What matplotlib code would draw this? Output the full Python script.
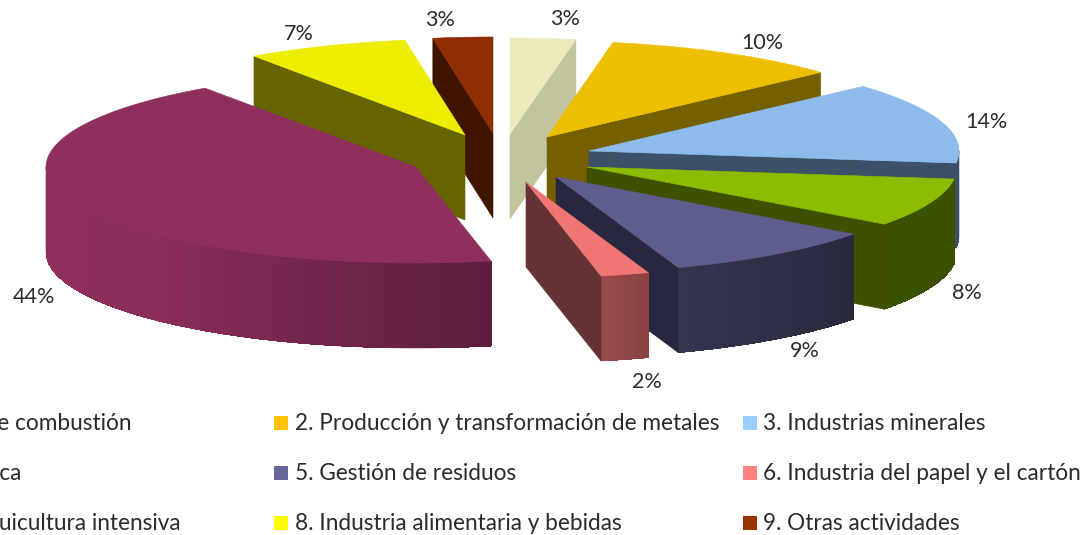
import numpy as np
import matplotlib
matplotlib.use('Agg')
import matplotlib.pyplot as plt
from matplotlib.collections import PolyCollection
from matplotlib.patches import Polygon, Rectangle

plt.rcParams['font.family'] = ['Lato', 'DejaVu Sans']

# shares (the printed labels are rounded)
names = ['1. Instalaciones de combustión',
         '2. Producción y transformación de metales',
         '3. Industrias minerales',
         '4. Industria química',
         '5. Gestión de residuos',
         '6. Industria del papel y el cartón',
         '7. Ganadería y acuicultura intensiva',
         '8. Industria alimentaria y bebidas',
         '9. Otras actividades']
shares = [2.85, 10.4, 13.75, 8.15, 9.49, 2.11, 43.59, 7.06, 2.6]
pct_labels = ['3%', '10%', '14%', '8%', '9%', '2%', '44%', '7%', '3%']

# ── style and layout (pixels of the 1088x535 canvas) ─────────────────────────
top_cols = ['#ecebbd', '#eebf00', '#8cbbec', '#8cbc00', '#5e5e8e',
            '#f07575', '#8f2f5e', '#eeec00', '#8e2e00']
wall_cols = ['#c3c39c', '#756000', '#3c5068', '#3f5000', '#27273f',
             '#653333', '#5f1f43', '#666400', '#3f1500']
legend_cols = ['#ffffcc', '#ffc000', '#99ccff', '#99cc00', '#666699',
               '#ff8080', '#993366', '#ffff00', '#993300']

apex_x = [510, 547, 589, 587, 556, 526, 416, 465, 493]
apex_y = [134, 137, 151, 167, 177, 182, 167, 135, 133]
label_x = [565, 762, 986, 967, 805, 647, 34, 299, 440]
label_y = [19, 43, 122, 293, 351, 382, 297, 34, 20]
draw_order = [8, 0, 1, 2, 3, 4, 5, 7, 6]

RX, RY, DEPTH = 370.0, 96.0, 85.0
TEXT_COL = '#2b2b2b'

# legend rows: right end for the cropped first column, left start for the others
legend_y = [423, 473, 523]
col1_right = [132, 21, 181]
col2_marker, col2_text = 274, 295
col3_marker, col3_text = 743, 763

fig = plt.figure(figsize=(10.88, 5.35), dpi=100)
ax = fig.add_axes([0, 0, 1, 1])
ax.set_xlim(0, 1088)
ax.set_ylim(535, 0)
ax.axis('off')


def rim(cx, cy, th):
    return cx + RX * np.sin(th), cy - RY * np.cos(th)


def side_shade(deg):
    # lighting on the curved rim
    return np.interp(deg, [90, 126, 160, 168, 225, 360],
                     [0.43, 0.43, 0.56, 0.64, 0.98, 1.0])


edges = np.deg2rad(np.concatenate([[0], np.cumsum(shares)]) * 3.6)

for i in draw_order:
    cx, cy = apex_x[i], apex_y[i]
    t0, t1 = edges[i], edges[i + 1]
    th = np.linspace(t0, t1, max(int(np.degrees(t1 - t0)) * 2, 12))
    xs, ys = rim(cx, cy, th)
    top_rgb = np.array(matplotlib.colors.to_rgb(top_cols[i]))

    # curved rim, only the part that faces the viewer
    lo, hi = max(t0, np.pi / 2), min(t1, 3 * np.pi / 2)
    if hi > lo:
        # outline under the strips keeps the outer edge smooth
        seg = np.linspace(lo, hi, max(int(np.degrees(hi - lo)), 2) + 1)
        sx, sy = rim(cx, cy, seg)
        outline = np.column_stack([np.r_[sx, sx[::-1]], np.r_[sy, sy[::-1] + DEPTH]])
        mid = top_rgb * side_shade(np.degrees(seg[len(seg) // 2]))
        ax.add_patch(Polygon(outline, closed=True, fc=mid, ec=mid, lw=0.4))
        quads = [[(sx[k], sy[k]), (sx[k + 1], sy[k + 1]),
                  (sx[k + 1], sy[k + 1] + DEPTH), (sx[k], sy[k] + DEPTH)]
                 for k in range(len(seg) - 1)]
        shades = [top_rgb * side_shade(np.degrees(seg[k])) for k in range(len(seg) - 1)]
        ax.add_collection(PolyCollection(quads, facecolors=shades, edgecolors='none',
                                         antialiaseds=False))

    # radial wall that faces the viewer
    edge_t = t1 if t1 <= np.pi else t0
    ex, ey = rim(cx, cy, edge_t)
    if i != 6:
        ax.add_patch(Polygon([(cx, cy), (ex, ey), (ex, ey + DEPTH), (cx, cy + DEPTH)],
                             closed=True, fc=wall_cols[i], ec=wall_cols[i], lw=0.4))

    # top face
    ax.add_patch(Polygon(np.column_stack([np.r_[cx, xs], np.r_[cy, ys]]), closed=True,
                         fc=top_cols[i], ec=top_cols[i], lw=0.4))

for i, lab in enumerate(pct_labels):
    ax.text(label_x[i], label_y[i], lab, ha='center', va='center',
            fontsize=15.5, color=TEXT_COL)

# legend, laid out by hand because the first column runs off the canvas
for r in range(3):
    y = legend_y[r]
    ax.text(col1_right[r], y, names[3 * r], ha='right', va='center',
            fontsize=16.3, color=TEXT_COL)
    ax.add_patch(Rectangle((col2_marker, y - 7), 14, 14, fc=legend_cols[3 * r + 1], ec='none'))
    ax.text(col2_text, y, names[3 * r + 1], ha='left', va='center',
            fontsize=16.3, color=TEXT_COL)
    ax.add_patch(Rectangle((col3_marker, y - 7), 14, 14, fc=legend_cols[3 * r + 2], ec='none'))
    ax.text(col3_text, y, names[3 * r + 2], ha='left', va='center',
            fontsize=16.3, color=TEXT_COL)

fig.savefig('out.png', dpi=100, facecolor='white')
plt.close(fig)
